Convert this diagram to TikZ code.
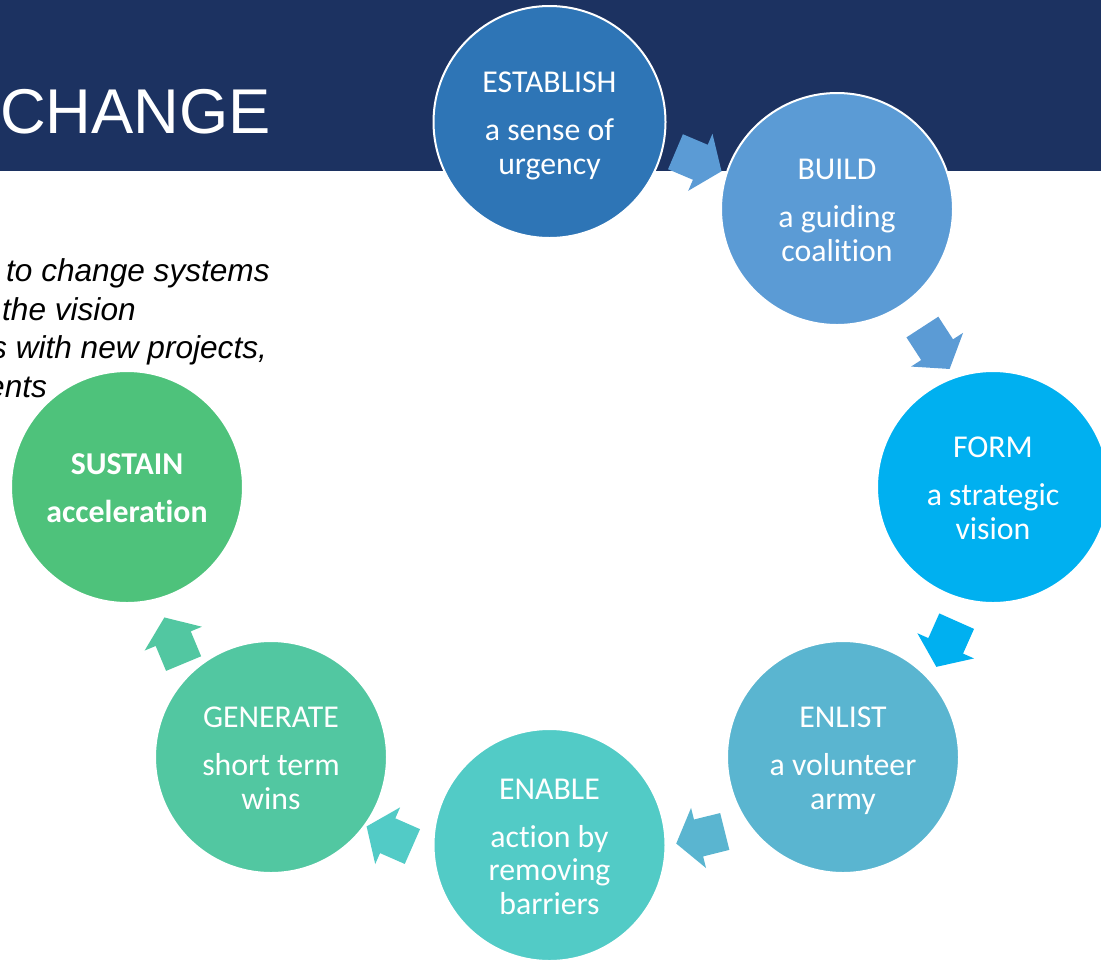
\documentclass[tikz,border=0pt]{standalone}
\usepackage{fontspec}
\newfontfamily\carlito[Ligatures=NoCommon]{Carlito}
\newfontfamily\arialish{Liberation Sans}
\definecolor{band}{HTML}{1C3261}
\definecolor{cEst}{HTML}{2E75B6}
\definecolor{cBld}{HTML}{5B9BD5}
\definecolor{cFrm}{HTML}{00B0F0}
\definecolor{cEnl}{HTML}{5AB5D0}
\definecolor{cEnb}{HTML}{52CBC6}
\definecolor{cGen}{HTML}{52C7A1}
\definecolor{cSus}{HTML}{4EC27B}
\tikzset{
  stage/.style={circle, draw=white, line width=2pt, minimum size=232pt, inner sep=0pt},
  stagetext/.style={text=white, align=center, inner sep=0pt,
    font=\carlito\fontsize{31.8}{33.5}\selectfont},
  note/.style={anchor=base west, inner sep=0pt,
    font=\arialish\itshape\fontsize{31.6}{38.5}\selectfont},
  cyclearrow/.pic={
    \fill[pic actions] (-25,-19) -- (2,-19) -- (2,-31) -- (25,0)
      -- (2,31) -- (2,19) -- (-25,19) -- cycle;
  }
}
\begin{document}
\begin{tikzpicture}[x=1pt,y=-1pt]
\useasboundingbox (0,0) rectangle (1101,962);
\clip (0,0) rectangle (1101,962);

% title band
\fill[band] (0,0) rectangle (1101,171);
\node[anchor=base west, inner sep=0pt, text=white,
  font=\arialish\fontsize{63.3}{70}\selectfont] (title) at (0,133) {CHANGE};

% side notes
\node[note] (n1) at (6,281.5) {to change systems};
\node[note] (n2) at (2,320) {the vision};
\node[note] (n3) at (-9,358.5) {s with new projects,};
\node[note] (n4) at (-13,397) {ents};

% arrows between the stages
\pic[fill=cBld, rotate=-23]  at (698.5,161.5) {cyclearrow};
\pic[fill=cBld, rotate=-57]  at (936,348)     {cyclearrow};
\pic[fill=cFrm, rotate=-114] at (946.5,644)   {cyclearrow};
\pic[fill=cEnl, rotate=-166] at (700.5,837.5) {cyclearrow};
\pic[fill=cEnb, rotate=-203.7] at (389.5,836.5) {cyclearrow};
\pic[fill=cGen, rotate=-247.4] at (174,640.5) {cyclearrow};

% stages
\node[stage, fill=cEst] (est) at (549.5,122) {};
\node[stage, fill=cBld] (bld) at (837,209) {};
\node[stage, fill=cFrm] (frm) at (993,487) {};
\node[stage, fill=cEnl] (enl) at (843,757) {};
\node[stage, fill=cEnb] (enb) at (549.5,845) {};
\node[stage, fill=cGen] (gen) at (271,757) {};
\node[stage, fill=cSus] (sus) at (127,487) {};

\node[stagetext] (est-t) at (549.5,127) {\strut ESTABLISH\\[14.5pt]a sense of\\urgency\strut};
\node[stagetext] (bld-t) at (837,214) {\strut BUILD\\[14.5pt]a guiding\\coalition\strut};
\node[stagetext] (frm-t) at (993,492) {\strut FORM\\[14.5pt]a strategic\\vision\strut};
\node[stagetext] (enl-t) at (843,762) {\strut ENLIST\\[14.5pt]a volunteer\\army\strut};
\node[stagetext] (enb-t) at (549.5,850) {\strut ENABLE\\[14.5pt]action by\\removing\\barriers\strut};
\node[stagetext] (gen-t) at (271,762) {\strut GENERATE\\[14.5pt]short term\\wins\strut};
\node[stagetext, font=\carlito\bfseries\fontsize{31.8}{33.5}\selectfont] (sus-t) at (127,492)
  {\strut SUSTAIN\\[14.5pt]acceleration\strut};
\end{tikzpicture}
\end{document}
